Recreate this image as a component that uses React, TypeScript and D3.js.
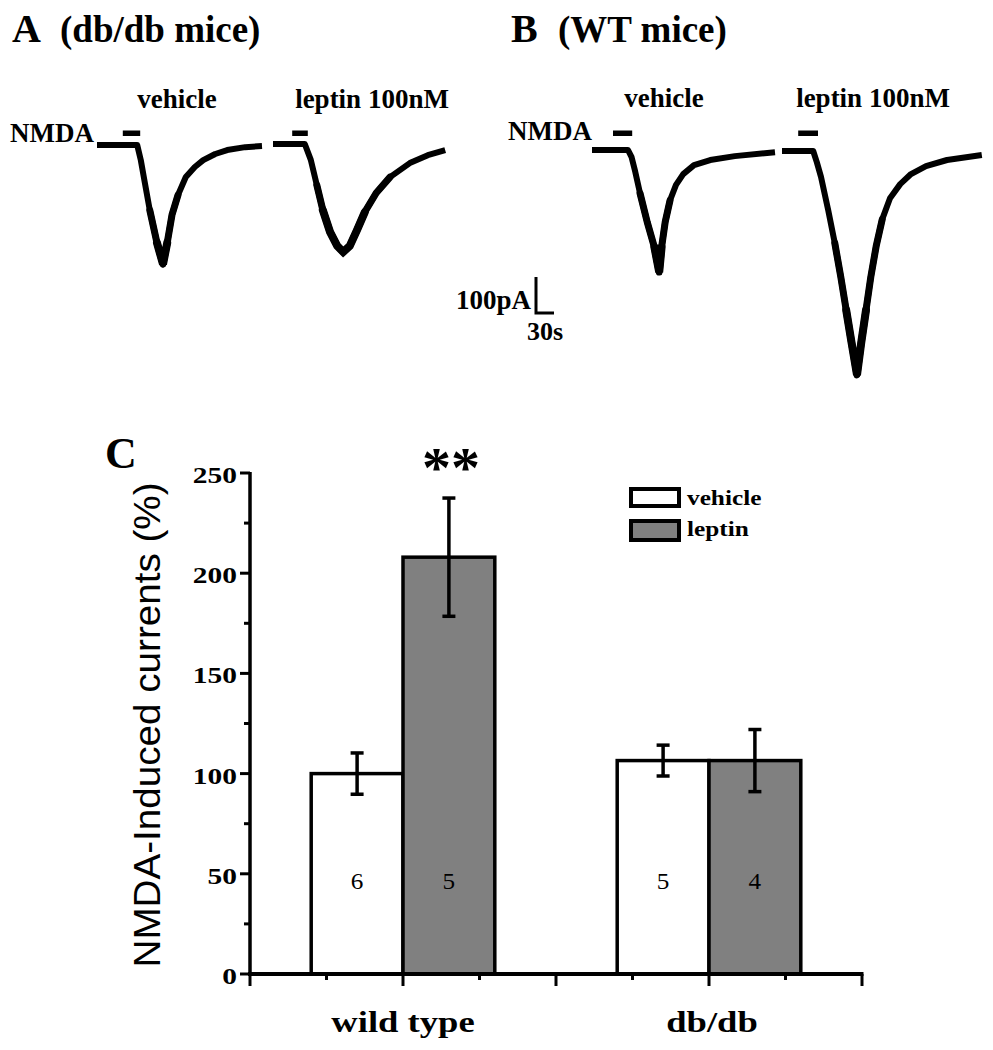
import React from "react";
import * as d3 from "d3";

// ---------- Panel C data ----------
const groups = ["wild type", "db/db"];
const groupPos = [1, 3];
const vehicleMean = [100, 106.5];
const vehicleErr = [10.3, 7.7];
const leptinMean = [208, 106.5];
const leptinErr = [29.5, 15.5];
const vehicleN = [6, 5];
const leptinN = [5, 4];
const yTicks = [0, 50, 100, 150, 200, 250];
const yMinorTicks = [25, 75, 125, 175, 225];
const xMajorTicks = [0, 1, 2, 3, 4];
const xMinorTicks = [0.5, 1.5, 2.5, 3.5];
const seriesNames = ["vehicle", "leptin"];
const seriesFill = ["#ffffff", "#808080"];

// ---------- Panel A/B traces (time s, current pA) ----------
const aVehT = [0, 67, 73, 78, 88, 100, 110, 117, 125, 135, 148, 163, 177, 197, 217, 247, 275];
const aVehI = [0, 0, -42, -89, -181, -272, -331, -272, -194, -139, -89, -61, -42, -25, -14, -6, -3];
const aLepT = [0, 53, 63, 73, 83, 95, 107, 117, 128, 140, 153, 172, 195, 228, 258, 287];
const aLepI = [0, 0, -44, -114, -183, -244, -283, -300, -283, -239, -189, -136, -92, -53, -31, -17];
const bVehT = [0, 60, 66, 72, 80, 92, 104, 112, 116, 122, 130, 140, 152, 170, 197, 238, 305];
const bVehI = [0, 0, -20, -60, -120, -200, -270, -339, -270, -200, -140, -97, -67, -42, -28, -17, -6];
const bLepT = [0, 52, 58, 65, 77, 88, 98, 107, 116, 125, 132, 140, 148, 157, 167, 180, 197, 215, 240, 275, 333];
const bLepI = [0, 0, -31, -72, -164, -256, -350, -442, -533, -622, -533, -442, -350, -264, -190, -131, -92, -64, -42, -25, -11];
const nmdaWindows = [[43, 72], [32, 58], [35, 67], [27, 60]];
const scaleBarPA = 100;
const scaleBarS = 30;

// layout
const PX_PER_S = 0.6;
const PX_PER_PA = 0.36;
const traceOrigins = [
  [97, 145],
  [273, 144],
  [592, 150],
  [782, 151],
];
const traces = [
  [aVehT, aVehI],
  [aLepT, aLepI],
  [bVehT, bVehI],
  [bLepT, bLepI],
];

const SERIF = "'Liberation Serif', 'Times New Roman', serif";
const SANS = "'Liberation Sans', Arial, sans-serif";

function SText({ x, y, sx = 1, size, anchor = "start", weight = "bold", family = SERIF, children }: any) {
  return (
    <text
      transform={`translate(${x},${y}) scale(${sx},1)`}
      fontFamily={family}
      fontSize={size}
      fontWeight={weight}
      textAnchor={anchor}
      fill="#000"
    >
      {children}
    </text>
  );
}

export default function App() {
  const yScale = d3.scaleLinear().domain([0, 250]).range([974, 473]);
  const xScale = d3.scaleLinear().domain([0, 4]).range([250, 862]);
  const barW = xScale(0.6) - xScale(0);

  const tracePaths = traces.map(([t, I], k) => {
    const [ox, oy] = traceOrigins[k];
    const sx = d3.scaleLinear().domain([0, 1]).range([ox, ox + PX_PER_S]);
    const sy = d3.scaleLinear().domain([0, -1]).range([oy, oy + PX_PER_PA]);
    const line = d3
      .line<number>()
      .x((d) => sx(t[d]))
      .y((d) => sy(I[d]))
      .curve(d3.curveLinear);
    const peak = d3.min(I) as number;
    const all = t.map((_, i) => i);
    const mid = all.filter((i) => I[i] <= peak * 0.3);
    const idx = all.filter((i) => I[i] <= peak * 0.6);
    const [n0, n1] = nmdaWindows[k];
    return {
      d: line(all) as string,
      dMid: line(mid) as string,
      dPeak: line(idx) as string,
      nx0: sx(n0),
      nx1: sx(n1),
    };
  });

  // scale bar
  const sbX = 536;
  const sbY = 313;
  const sbH = scaleBarPA * PX_PER_PA;
  const sbW = scaleBarS * PX_PER_S;

  const bars: any[] = [];
  groups.forEach((g, gi) => {
    [vehicleMean, leptinMean].forEach((means, si) => {
      const errs = si === 0 ? vehicleErr : leptinErr;
      const ns = si === 0 ? vehicleN : leptinN;
      const cx = xScale(groupPos[gi] + (si === 0 ? -0.3 : 0.3));
      bars.push({ cx, v: means[gi], e: errs[gi], n: ns[gi], fill: seriesFill[si], key: `${gi}-${si}` });
    });
  });

  return (
    <svg
      width={993}
      height={1050}
      style={{ position: "absolute", left: 0, top: 0, background: "#fff" }}
    >
      <rect x={0} y={0} width={993} height={1050} fill="#fff" />
      {/* Panel titles */}
      <SText x={12} y={42} size={40}>A</SText>
      <SText x={60} y={42} size={37}>(db/db mice)</SText>
      <SText x={511} y={42} size={40}>B</SText>
      <SText x={558} y={42} size={37}>(WT mice)</SText>

      <SText x={177} y={108} size={27} anchor="middle">vehicle</SText>
      <SText x={372} y={108} size={27} anchor="middle">leptin 100nM</SText>
      <SText x={664} y={107} size={27} anchor="middle">vehicle</SText>
      <SText x={873} y={107} size={27} anchor="middle">leptin 100nM</SText>

      <SText x={10} y={142} size={27}>NMDA</SText>
      <SText x={508} y={140} size={27}>NMDA</SText>

      {tracePaths.map((p, k) => (
        <g key={k}>
          <rect x={p.nx0} y={130.5} width={p.nx1 - p.nx0} height={5.5} fill="#000" />
          <path d={p.d} fill="none" stroke="#000" strokeWidth={6} strokeLinejoin="round" strokeLinecap="butt" />
          <path d={p.dMid} fill="none" stroke="#000" strokeWidth={7} strokeLinejoin="round" strokeLinecap="round" />
          <path d={p.dPeak} fill="none" stroke="#000" strokeWidth={8} strokeLinejoin="miter" strokeLinecap="round" />
        </g>
      ))}

      {/* scale bar */}
      <path
        d={`M${sbX},${sbY - sbH} L${sbX},${sbY} L${sbX + sbW},${sbY}`}
        fill="none"
        stroke="#000"
        strokeWidth={3}
      />
      <SText x={531} y={309} size={27} anchor="end">100pA</SText>
      <SText x={527} y={340} size={26}>30s</SText>

      {/* Panel C */}
      <SText x={105} y={468} size={44}>C</SText>

      {bars.map((b) => (
        <g key={b.key}>
          <rect
            x={b.cx - barW / 2}
            y={yScale(b.v)}
            width={barW}
            height={yScale(0) - yScale(b.v)}
            fill={b.fill}
            stroke="#000"
            strokeWidth={3.5}
          />
          <line x1={b.cx} x2={b.cx} y1={yScale(b.v + b.e)} y2={yScale(b.v - b.e)} stroke="#000" strokeWidth={3.5} />
          <line x1={b.cx - 6.5} x2={b.cx + 6.5} y1={yScale(b.v + b.e)} y2={yScale(b.v + b.e)} stroke="#000" strokeWidth={3.5} />
          <line x1={b.cx - 6.5} x2={b.cx + 6.5} y1={yScale(b.v - b.e)} y2={yScale(b.v - b.e)} stroke="#000" strokeWidth={3.5} />
          <SText x={b.cx} y={yScale(50) + 15} size={24} sx={1.05} anchor="middle" weight="normal">
            {b.n}
          </SText>
        </g>
      ))}

      {/* significance */}
      <SText x={xScale(1.3) + 2} y={487} size={58} anchor="middle">**</SText>

      {/* Y axis */}
      <line x1={xScale(0)} x2={xScale(0)} y1={yScale(0) + 2} y2={yScale(250) - 1} stroke="#000" strokeWidth={3.5} />
      {yTicks.map((t) => (
        <g key={t}>
          <line x1={xScale(0) - 10} x2={xScale(0)} y1={yScale(t)} y2={yScale(t)} stroke="#000" strokeWidth={3} />
          <SText x={237} y={yScale(t) + 10} size={23} sx={1.28} anchor="end">
            {t}
          </SText>
        </g>
      ))}
      {yMinorTicks.map((t) => (
        <line key={t} x1={xScale(0) - 6} x2={xScale(0)} y1={yScale(t)} y2={yScale(t)} stroke="#000" strokeWidth={3} />
      ))}

      {/* X axis */}
      <line x1={xScale(0) - 2} x2={xScale(4) + 1.5} y1={yScale(0)} y2={yScale(0)} stroke="#000" strokeWidth={4} />
      {xMajorTicks.map((t) => (
        <line key={t} x1={xScale(t)} x2={xScale(t)} y1={yScale(0)} y2={yScale(0) + 12} stroke="#000" strokeWidth={3} />
      ))}
      {xMinorTicks.map((t) => (
        <line key={t} x1={xScale(t)} x2={xScale(t)} y1={yScale(0)} y2={yScale(0) + 6} stroke="#000" strokeWidth={3} />
      ))}
      {groups.map((g, i) => (
        <SText key={g} x={xScale(groupPos[i]) + (i === 1 ? 3 : 0)} y={1032} size={30} sx={1.22} anchor="middle">
          {g}
        </SText>
      ))}

      {/* Y label */}
      <text
        transform={`translate(160,725) rotate(-90)`}
        fontFamily={SANS}
        fontSize={37}
        textAnchor="middle"
        textLength={485}
        lengthAdjust="spacingAndGlyphs"
        fill="#000"
      >
        NMDA-Induced currents (%)
      </text>

      {/* Legend */}
      {seriesNames.map((s, i) => (
        <g key={s}>
          <rect x={631} y={489 + i * 32} width={48} height={17 + i * 2} fill={seriesFill[i]} stroke="#000" strokeWidth={4} />
          <SText x={687} y={505 + i * 31} size={22} sx={1.15}>
            {s}
          </SText>
        </g>
      ))}
    </svg>
  );
}
